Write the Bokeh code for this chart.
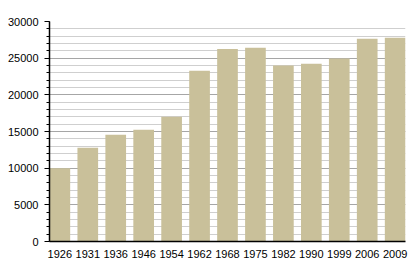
from bokeh.plotting import figure
from bokeh.models import Range1d, SingleIntervalTicker, FixedTicker, ColumnDataSource
from bokeh.embed import file_html
from bokeh.resources import INLINE

years = ["1926", "1931", "1936", "1946", "1954", "1962", "1968", "1975", "1982", "1990", "1999", "2006", "2009"]
population = [9980, 12780, 14550, 15240, 17000, 23280, 26240, 26420, 24000, 24240, 24950, 27650, 27790]

xs = list(range(len(years)))
src = ColumnDataSource(dict(x=xs, top=population))

bw = 0.74
p = figure(width=415, height=270, output_backend="svg", toolbar_location=None,
           x_range=Range1d(-bw / 2, len(years) - 1 + bw / 2), y_range=Range1d(0, 30000),
           min_border_left=49, min_border_right=10, min_border_top=21, min_border_bottom=29)
p.outline_line_color = None
p.background_fill_color = "white"

p.vbar(x="x", top="top", width=bw, bottom=0, source=src, fill_color="#c9c09a", line_color=None)

p.xgrid.grid_line_color = None
p.ygrid.grid_line_color = "#a6a6a6"
p.ygrid.minor_grid_line_color = "#cfcfcf"

p.yaxis.ticker = SingleIntervalTicker(interval=5000, num_minor_ticks=5)
p.yaxis.axis_line_color = "black"
p.yaxis.axis_line_width = 1.5
p.yaxis.major_tick_line_color = "black"
p.yaxis.minor_tick_line_color = "black"
p.yaxis.major_tick_out = 5
p.yaxis.major_tick_in = 0
p.yaxis.minor_tick_out = 3
p.yaxis.minor_tick_in = 0
p.yaxis.major_label_standoff = 6
p.yaxis.major_label_text_font = "Liberation Sans"
p.yaxis.major_label_text_font_size = "11px"
p.yaxis.major_label_text_color = "black"

p.xaxis.ticker = FixedTicker(ticks=xs)
p.xaxis.major_label_overrides = {i: y for i, y in zip(xs, years)}
p.xaxis.axis_line_color = "black"
p.xaxis.axis_line_width = 1.5
p.xaxis.major_tick_line_color = None
p.xaxis.minor_tick_line_color = None
p.xaxis.major_label_standoff = 2
p.xaxis.major_label_text_font = "Liberation Sans"
p.xaxis.major_label_text_font_size = "11px"
p.xaxis.major_label_text_color = "black"

open("out.html", "w").write(file_html(p, INLINE))
